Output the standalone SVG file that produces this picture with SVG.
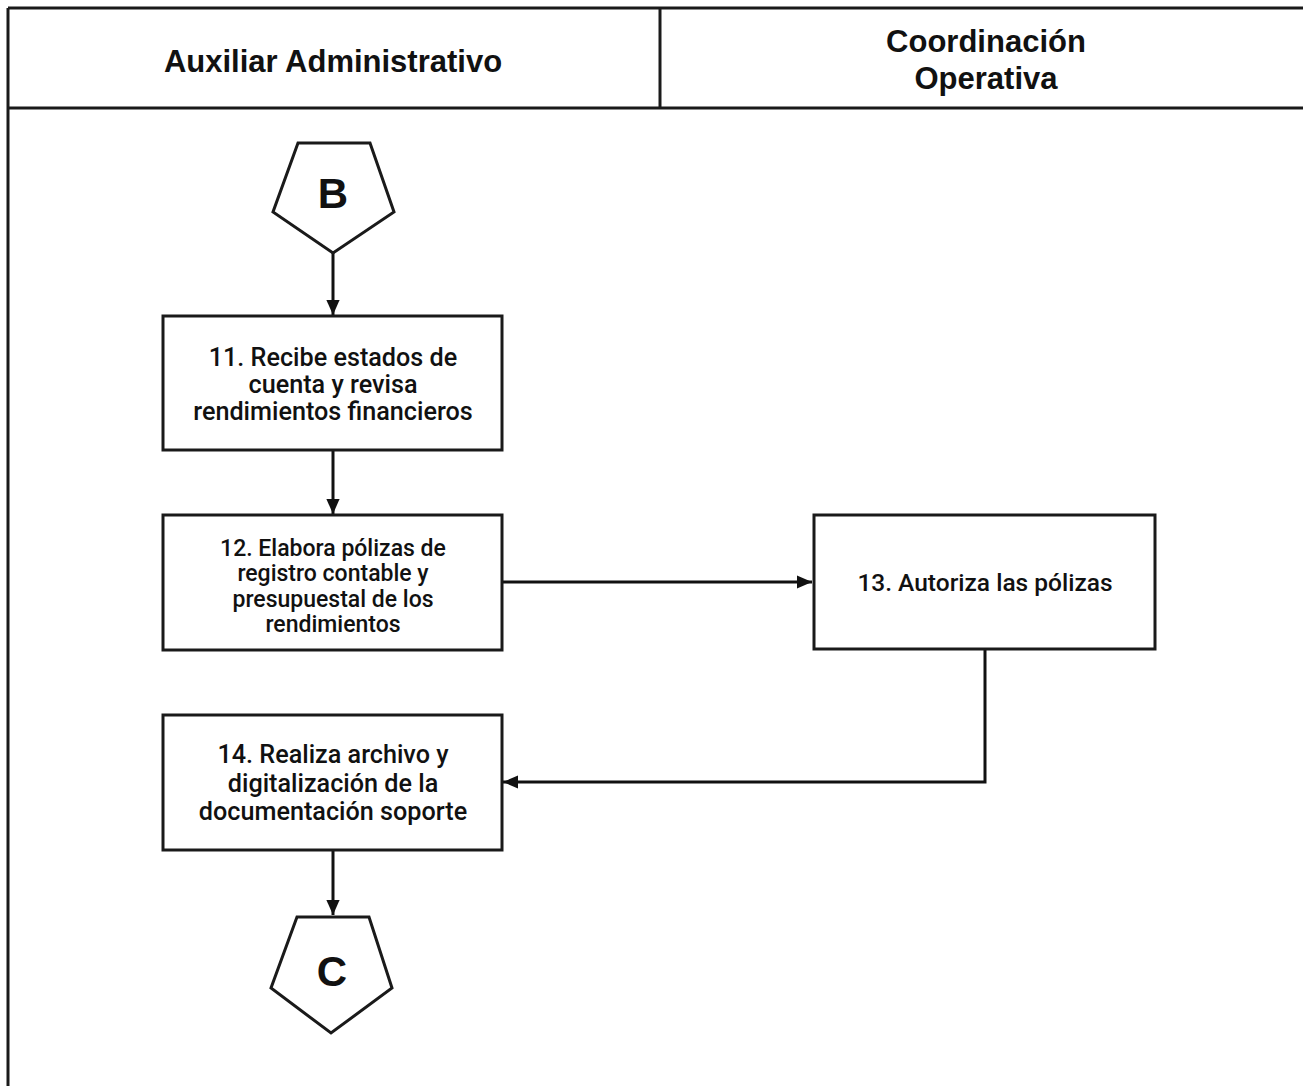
<svg xmlns="http://www.w3.org/2000/svg" width="1303" height="1086" viewBox="0 0 1303 1086">
<defs>
<marker id="arr" viewBox="0 0 10 10" refX="10" refY="5" markerWidth="5" markerHeight="4.4" markerUnits="strokeWidth" orient="auto" preserveAspectRatio="none">
<path d="M0,0 L10,5 L0,10 z" fill="#111"/>
</marker>
<style>
.lane{stroke:#1a1a1a;stroke-width:3;fill:none}
.box{fill:#fff;stroke:#1a1a1a;stroke-width:3}
.hdr{font-family:"Liberation Sans",Arial,sans-serif;font-weight:bold;font-size:31px;fill:#111;text-anchor:middle}
.t{font-family:Roboto,"Liberation Sans",sans-serif;font-weight:500;fill:#111;text-anchor:middle}
.big{font-family:"Liberation Sans",Arial,sans-serif;font-weight:bold;font-size:42px;fill:#111;text-anchor:middle}
.con{stroke:#111;stroke-width:3;fill:none;marker-end:url(#arr)}
</style>
</defs>
<rect width="1303" height="1086" fill="#fff"/>
<g id="lanes">
<line class="lane" x1="8" y1="8" x2="1303" y2="8"/>
<line class="lane" x1="8" y1="108" x2="1303" y2="108"/>
<line class="lane" x1="8" y1="8" x2="8" y2="1086"/>
<line class="lane" x1="660" y1="8" x2="660" y2="108"/>
<text class="hdr" x="333" y="72">Auxiliar Administrativo</text>
<text class="hdr" x="986" y="52">Coordinación</text>
<text class="hdr" x="986" y="89">Operativa</text>
</g>
<g id="connectors">
<line class="con" x1="333" y1="253" x2="333" y2="315"/>
<line class="con" x1="333" y1="450" x2="333" y2="514"/>
<line class="con" x1="502" y1="582" x2="812" y2="582"/>
<polyline class="con" points="985,649 985,782 503,782"/>
<line class="con" x1="333" y1="850" x2="333" y2="915"/>
</g>
<g id="nodeB">
<polygon class="box" points="298,143 370,143 394,212 333,253 273,212"/>
<text class="big" x="333" y="208">B</text>
</g>
<g id="node11">
<rect class="box" x="163" y="316" width="339" height="134"/>
<text class="t" x="333" y="366" font-size="25.2">11. Recibe estados de</text>
<text class="t" x="333" y="393" font-size="25.2">cuenta y revisa</text>
<text class="t" x="333" y="420" font-size="25.2">rendimientos financieros</text>
</g>
<g id="node12">
<rect class="box" x="163" y="515" width="339" height="135"/>
<text class="t" x="333" y="556" font-size="23">12. Elabora pólizas de</text>
<text class="t" x="333" y="581" font-size="23">registro contable y</text>
<text class="t" x="333" y="607" font-size="23">presupuestal de los</text>
<text class="t" x="333" y="632" font-size="23">rendimientos</text>
</g>
<g id="node13">
<rect class="box" x="814" y="515" width="341" height="134"/>
<text class="t" x="985" y="591" font-size="24.5">13. Autoriza las pólizas</text>
</g>
<g id="node14">
<rect class="box" x="163" y="715" width="339" height="135"/>
<text class="t" x="333" y="763" font-size="25.2">14. Realiza archivo y</text>
<text class="t" x="333" y="792" font-size="25.2">digitalización de la</text>
<text class="t" x="333" y="820" font-size="25.2">documentación soporte</text>
</g>
<g id="nodeC">
<polygon class="box" points="297,917 369,917 392,988 331,1033 271,988"/>
<text class="big" x="332" y="986">C</text>
</g>
</svg>
